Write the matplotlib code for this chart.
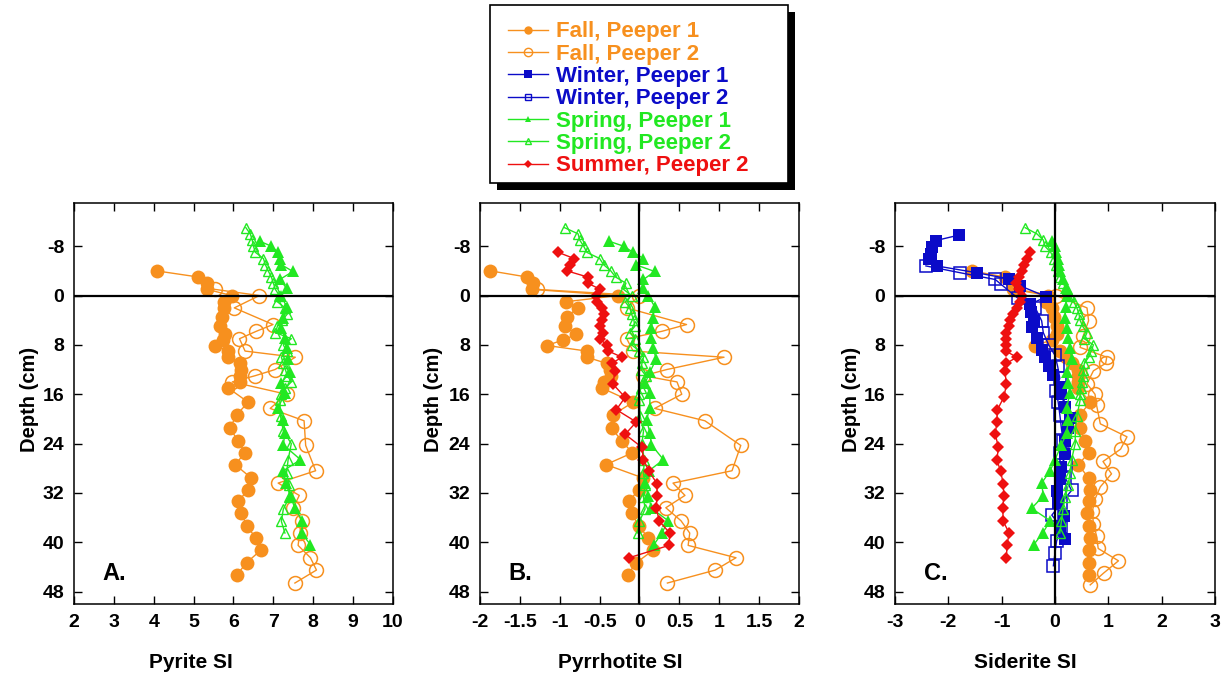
import numpy as np
import matplotlib.pyplot as plt
from matplotlib.lines import Line2D
from matplotlib.patches import Rectangle

plt.rcParams['font.family'] = ['Liberation Sans', 'DejaVu Sans']
plt.rcParams['font.weight'] = 'bold'
plt.rcParams['axes.unicode_minus'] = False

ORANGE = '#F7901E'
BLUE = '#0B0BC8'
GREEN = '#22E822'
RED = '#EE1010'

# ---- depths (cm) ----
fall1_depth = [-4, -3, -2, -1, 0, 1, 2, 3.4, 5, 6.3, 7.2, 8.1, 9, 10, 11, 12, 13, 14, 15, 17.3,
               19.3, 21.5, 23.6, 25.5, 27.4, 29.6, 31.5, 33.3, 35.3, 37.3, 39.3, 41.3, 43.3, 45.3]
fall2_depth = [-1, 0, 2, 4.7, 5.8, 7, 9, 10, 12, 13, 14, 16, 18.3, 20.3, 24.3, 28.4, 30.4, 32.4,
               34.4, 36.5, 38.5, 40.5, 42.5, 44.5, 46.6]
fall2_depth_c = [-1, 0, 2, 4.1, 6.5, 8.4, 10, 11, 12.2, 14.3, 16, 17.8, 20.8, 22.9, 24.9, 26.9,
                 28.9, 31, 33, 35, 37, 39, 41, 43, 45, 46.9]
winter1_depth = [-9.8, -8.9, -7.8, -6.8, -5.9, -4.8, -3.7, -2.7, -1.6, 0.2, 1.4, 2.6, 4.1, 5.1, 6.9,
                 8.8, 10, 11.4, 12.8, 14.9, 16, 18.1, 19.8, 21.4, 23.6, 25.7, 27.8, 29.8, 31.7,
                 33.7, 35.7, 37.6, 39.5]
winter2_depth = [-4.8, -3.7, -2.6, -1.8, 0.4, 2.0, 4.1, 6, 8, 9.7, 11.5, 13.4, 15.4, 17.3, 19.3,
                 21.5, 23.5, 25.5, 27.5, 29.5, 31.6, 33.6, 35.6, 37.5, 39.8, 41.7, 43.8]
spring1_depth = [-8.8, -8, -7, -6, -5, -3.9, -2.6, -1.2, 0, 1.8, 3.6, 5.2, 6.9, 8.5, 10.3, 12.4,
                 14.2, 15.8, 18.2, 20.1, 22.3, 24.2, 26.6, 28.4, 30.4, 32.5, 34.5, 36.5, 38.5, 40.4]
spring2_depth = [-11, -10, -9, -8, -7, -6, -5, -4, -3, -2, -1, 0, 1, 2, 3, 4, 5, 6, 7, 8, 9, 10,
                 11, 12, 13, 14, 15, 16, 17, 19.6, 22, 24, 26.6, 28.8, 30.7, 32.7, 34.6, 36.6, 38.5]
summer2_depth = [-7, -6, -5, -4, -3, -2, -1, 0, 1, 2, 3, 4, 5, 6, 7, 8, 9, 10, 11, 12.2, 14.4,
                 16.5, 18.5, 20.5, 22.5, 24.6, 26.6, 28.5, 30.5, 32.5, 34.5, 36.6, 38.5, 40.5, 42.5]

# ---- A. Pyrite SI ----
pyr_fall1 = [4.07, 5.12, 5.33, 5.34, 5.95, 5.76, 5.76, 5.70, 5.66, 5.78, 5.74, 5.53, 5.87, 5.87,
             6.16, 6.19, 6.16, 6.16, 5.87, 6.37, 6.08, 5.91, 6.12, 6.29, 6.04, 6.45, 6.37, 6.12,
             6.20, 6.33, 6.56, 6.68, 6.33, 6.08]
pyr_fall2 = [5.53, 6.65, 6.02, 6.99, 6.57, 6.15, 6.29, 7.55, 7.04, 6.54, 5.97, 7.33, 6.92, 7.77,
             7.81, 8.06, 7.12, 7.65, 7.50, 7.71, 7.66, 7.62, 7.93, 8.08, 7.54]
pyr_spring1 = [6.66, 6.95, 7.12, 7.16, 7.20, 7.49, 7.16, 7.33, 7.20, 7.33, 7.25, 7.20, 7.29, 7.33,
               7.37, 7.41, 7.20, 7.29, 7.12, 7.25, 7.29, 7.25, 7.68, 7.25, 7.31, 7.43, 7.54, 7.73,
               7.71, 7.93]
pyr_spring2 = [6.31, 6.42, 6.47, 6.50, 6.55, 6.75, 6.80, 6.87, 6.95, 7.00, 7.05, 7.15, 7.10, 7.29,
               7.35, 7.22, 7.10, 7.05, 7.45, 7.25, 7.33, 7.20, 7.25, 7.30, 7.35, 7.45, 7.30, 7.20,
               7.16, 7.18, 7.25, 7.45, 7.37, 7.33, 7.40, 7.40, 7.25, 7.20, 7.29]

# ---- B. Pyrrhotite SI ----
po_fall1 = [-1.87, -1.41, -1.33, -1.35, -0.27, -0.92, -0.77, -0.91, -0.93, -0.79, -0.96, -1.16,
            -0.66, -0.66, -0.41, -0.37, -0.36, -0.45, -0.47, -0.08, -0.33, -0.35, -0.22, -0.09,
            -0.42, 0.05, -0.01, -0.13, -0.10, -0.01, 0.11, 0.17, -0.04, -0.15]
po_fall2 = [-1.29, 0.0, -0.16, 0.59, 0.28, -0.16, -0.08, 1.06, 0.34, 0.05, 0.47, 0.53, 0.19, 0.82,
            1.27, 1.16, 0.42, 0.57, 0.33, 0.52, 0.63, 0.61, 1.21, 0.95, 0.35]
po_spring1 = [-0.38, -0.20, -0.08, 0.05, -0.05, 0.19, 0.05, 0.05, 0.11, 0.19, 0.17, 0.15, 0.15,
              0.17, 0.21, 0.13, 0.07, 0.13, 0.13, 0.09, 0.13, 0.15, 0.30, 0.12, 0.07, 0.11, 0.15,
              0.36, 0.28, 0.18]
po_spring2 = [-0.94, -0.77, -0.75, -0.70, -0.66, -0.50, -0.45, -0.36, -0.30, -0.17, -0.20, -0.10,
              -0.18, -0.12, -0.10, -0.07, -0.06, -0.12, -0.06, -0.10, 0.0, 0.05, 0.03, 0.02, 0.08,
              0.05, 0.02, -0.01, 0.0, 0.01, 0.05, 0.03, 0.06, 0.05, 0.07, 0.05, 0.07, 0.0, -0.02]
po_summer2 = [-1.02, -0.82, -0.87, -0.91, -0.65, -0.65, -0.49, -0.54, -0.53, -0.47, -0.45, -0.47,
              -0.49, -0.46, -0.50, -0.41, -0.39, -0.22, -0.35, -0.31, -0.33, -0.18, -0.29, -0.04,
              -0.18, 0.03, 0.05, 0.12, 0.22, 0.22, 0.21, 0.25, 0.38, 0.37, -0.13]

# ---- C. Siderite SI ----
sid_fall1 = [-1.56, -0.94, -0.80, -0.78, -0.13, -0.16, -0.06, -0.02, 0.03, 0.03, -0.05, -0.38,
             0.09, 0.20, 0.31, 0.44, 0.44, 0.44, 0.44, 0.66, 0.47, 0.47, 0.56, 0.63, 0.44, 0.63,
             0.66, 0.63, 0.60, 0.63, 0.66, 0.63, 0.63, 0.63]
sid_fall2 = [-0.75, 0.02, 0.60, 0.63, 0.53, 0.47, 0.97, 0.95, 0.72, 0.60, 0.75, 0.78, 0.85, 1.35,
             1.23, 0.90, 1.06, 0.85, 0.75, 0.70, 0.72, 0.78, 0.81, 1.19, 0.91, 0.66]
sid_winter1 = [-1.80, -2.24, -2.31, -2.33, -2.36, -2.22, -1.47, -0.86, -0.66, -0.16, -0.47, -0.45,
               -0.40, -0.43, -0.34, -0.25, -0.19, -0.12, -0.03, 0.09, 0.12, 0.19, 0.28, 0.25, 0.19,
               0.19, 0.12, 0.09, 0.03, 0.06, 0.16, 0.10, 0.19]
sid_winter2 = [-2.42, -1.78, -1.12, -1.01, -0.70, -0.37, -0.25, -0.22, -0.12, 0.0, 0.05, 0.09, 0.02,
               0.06, 0.09, 0.12, 0.15, 0.10, 0.20, 0.19, 0.31, 0.12, -0.06, 0.12, 0.03, 0.0, -0.03]
sid_spring1 = [-0.05, 0.0, 0.02, 0.05, 0.08, 0.10, 0.15, 0.20, 0.22, 0.20, 0.19, 0.22, 0.25, 0.28,
               0.31, 0.22, 0.25, 0.28, 0.22, 0.25, 0.22, 0.12, 0.0, -0.09, -0.25, -0.22, -0.44,
               -0.09, -0.23, -0.40]
sid_spring2 = [-0.56, -0.34, -0.22, -0.19, -0.08, -0.02, 0.02, 0.06, 0.10, 0.15, 0.22, 0.28, 0.35,
               0.41, 0.45, 0.47, 0.52, 0.60, 0.55, 0.72, 0.68, 0.63, 0.55, 0.53, 0.53, 0.50, 0.48,
               0.47, 0.47, 0.41, 0.38, 0.38, 0.31, 0.28, 0.25, 0.19, 0.15, 0.12, 0.09]
sid_summer2 = [-0.47, -0.53, -0.59, -0.62, -0.68, -0.73, -0.67, -0.62, -0.66, -0.72, -0.78, -0.84,
               -0.87, -0.91, -0.91, -0.91, -0.92, -0.72, -0.91, -0.94, -0.91, -0.96, -1.08, -1.09,
               -1.12, -1.06, -1.09, -1.02, -0.97, -0.96, -0.98, -0.97, -0.86, -0.90, -0.91]

legend_labels = ['Fall, Peeper 1', 'Fall, Peeper 2', 'Winter, Peeper 1', 'Winter, Peeper 2',
                 'Spring, Peeper 1', 'Spring, Peeper 2', 'Summer, Peeper 2']
depth_ticks = [-8, 0, 8, 16, 24, 32, 40, 48]

styles = {
    'fall1': dict(color=ORANGE, marker='o', ms=10, mfc=ORANGE, mew=0),
    'fall2': dict(color=ORANGE, marker='o', ms=10, mfc='none', mew=1.1),
    'winter1': dict(color=BLUE, marker='s', ms=8.5, mfc=BLUE, mew=0),
    'winter2': dict(color=BLUE, marker='s', ms=8, mfc='none', mew=1.1),
    'spring1': dict(color=GREEN, marker='^', ms=8, mfc=GREEN, mew=0),
    'spring2': dict(color=GREEN, marker='^', ms=7.5, mfc='none', mew=1.0),
    'summer2': dict(color=RED, marker='D', ms=6.5, mfc=RED, mew=0),
}

fig = plt.figure(figsize=(12.22, 6.77), dpi=100)
W, H = 1222.0, 677.0


def make_axes(left, right):
    return fig.add_axes([left / W, 1 - 604 / H, (right - left) / W, 401 / H])


def style_axes(ax, xlim, xticks, xticklabels, xlabel, xlab_x, ylab_x, letter, zero_v):
    ax.set_xlim(*xlim)
    ax.set_ylim(50, -15)
    ax.set_xticks(xticks)
    ax.set_xticklabels(xticklabels)
    ax.set_yticks(depth_ticks)
    ax.tick_params(direction='in', length=6, width=1, top=True, right=True,
                   labelsize=14, pad=7)
    for s in ax.spines.values():
        s.set_linewidth(1.1)
    ax.axhline(0, color='black', lw=1.6, zorder=6)
    if zero_v:
        ax.axvline(0, color='black', lw=1.6, zorder=6)
    ax.set_xlabel(xlabel, fontsize=15, fontweight='bold')
    ax.xaxis.set_label_coords(xlab_x, -0.147)
    ax.xaxis.label.set_va('center')
    ax.set_ylabel('Depth (cm)', fontsize=14.5, fontweight='bold')
    ax.yaxis.set_label_coords(ylab_x, 0.51)
    ax.yaxis.label.set_va('center')
    ax.text(0.09, 0.075, letter, transform=ax.transAxes, fontsize=17, fontweight='bold',
            va='center', ha='left')


def draw(ax, depth, vals, key):
    st = styles[key]
    ax.plot(vals, depth, color=st['color'], lw=1.0, marker=st['marker'], ms=st['ms'],
            mfc=st['mfc'], mec=st['color'], mew=st['mew'], zorder=3)


# A
axA = make_axes(74, 393)
draw(axA, fall1_depth, pyr_fall1, 'fall1')
draw(axA, fall2_depth, pyr_fall2, 'fall2')
draw(axA, spring1_depth, pyr_spring1, 'spring1')
draw(axA, spring2_depth, pyr_spring2, 'spring2')
style_axes(axA, (2, 10), [2, 3, 4, 5, 6, 7, 8, 9, 10],
           ['2', '3', '4', '5', '6', '7', '8', '9', '10'],
           'Pyrite SI', 0.367, -0.14, 'A.', False)

# B
axB = make_axes(480, 799)
draw(axB, fall1_depth, po_fall1, 'fall1')
draw(axB, fall2_depth, po_fall2, 'fall2')
draw(axB, spring1_depth, po_spring1, 'spring1')
draw(axB, spring2_depth, po_spring2, 'spring2')
draw(axB, summer2_depth, po_summer2, 'summer2')
style_axes(axB, (-2, 2), [-2, -1.5, -1, -0.5, 0, 0.5, 1, 1.5, 2],
           ['-2', '-1.5', '-1', '-0.5', '0', '0.5', '1', '1.5', '2'],
           'Pyrrhotite SI', 0.44, -0.145, 'B.', True)

# C
axC = make_axes(895, 1215)
draw(axC, fall1_depth, sid_fall1, 'fall1')
draw(axC, fall2_depth_c, sid_fall2, 'fall2')
draw(axC, winter1_depth, sid_winter1, 'winter1')
draw(axC, winter2_depth, sid_winter2, 'winter2')
draw(axC, spring1_depth, sid_spring1, 'spring1')
draw(axC, spring2_depth, sid_spring2, 'spring2')
draw(axC, summer2_depth, sid_summer2, 'summer2')
style_axes(axC, (-3, 3), [-3, -2, -1, 0, 1, 2, 3],
           ['-3', '-2', '-1', '0', '1', '2', '3'],
           'Siderite SI', 0.406, -0.135, 'C.', True)

# legend box with drop shadow
shadow = Rectangle((497 / W, 1 - 190 / H), 298 / W, 178 / H, transform=fig.transFigure,
                   facecolor='black', edgecolor='none', zorder=1)
box = Rectangle((490 / W, 1 - 183 / H), 298 / W, 178 / H, transform=fig.transFigure,
                facecolor='white', edgecolor='black', lw=1.2, zorder=2)
fig.add_artist(shadow)
fig.add_artist(box)

handles = []
for key in ['fall1', 'fall2', 'winter1', 'winter2', 'spring1', 'spring2', 'summer2']:
    st = styles[key]
    handles.append(Line2D([], [], color=st['color'], lw=1.0, marker=st['marker'],
                          ms=st['ms'] * 0.6, mfc=st['mfc'], mec=st['color'],
                          mew=min(st['mew'], 1.0)))
leg = fig.legend(handles, legend_labels, loc='center', bbox_to_anchor=(0.514, 0.854),
                 frameon=False, fontsize=16, labelcolor='linecolor', handlelength=1.8,
                 handletextpad=0.35, labelspacing=0.06, borderpad=0)
leg.set_zorder(5)
for t in leg.get_texts():
    t.set_fontweight('bold')

fig.savefig('out.png', dpi=100)
